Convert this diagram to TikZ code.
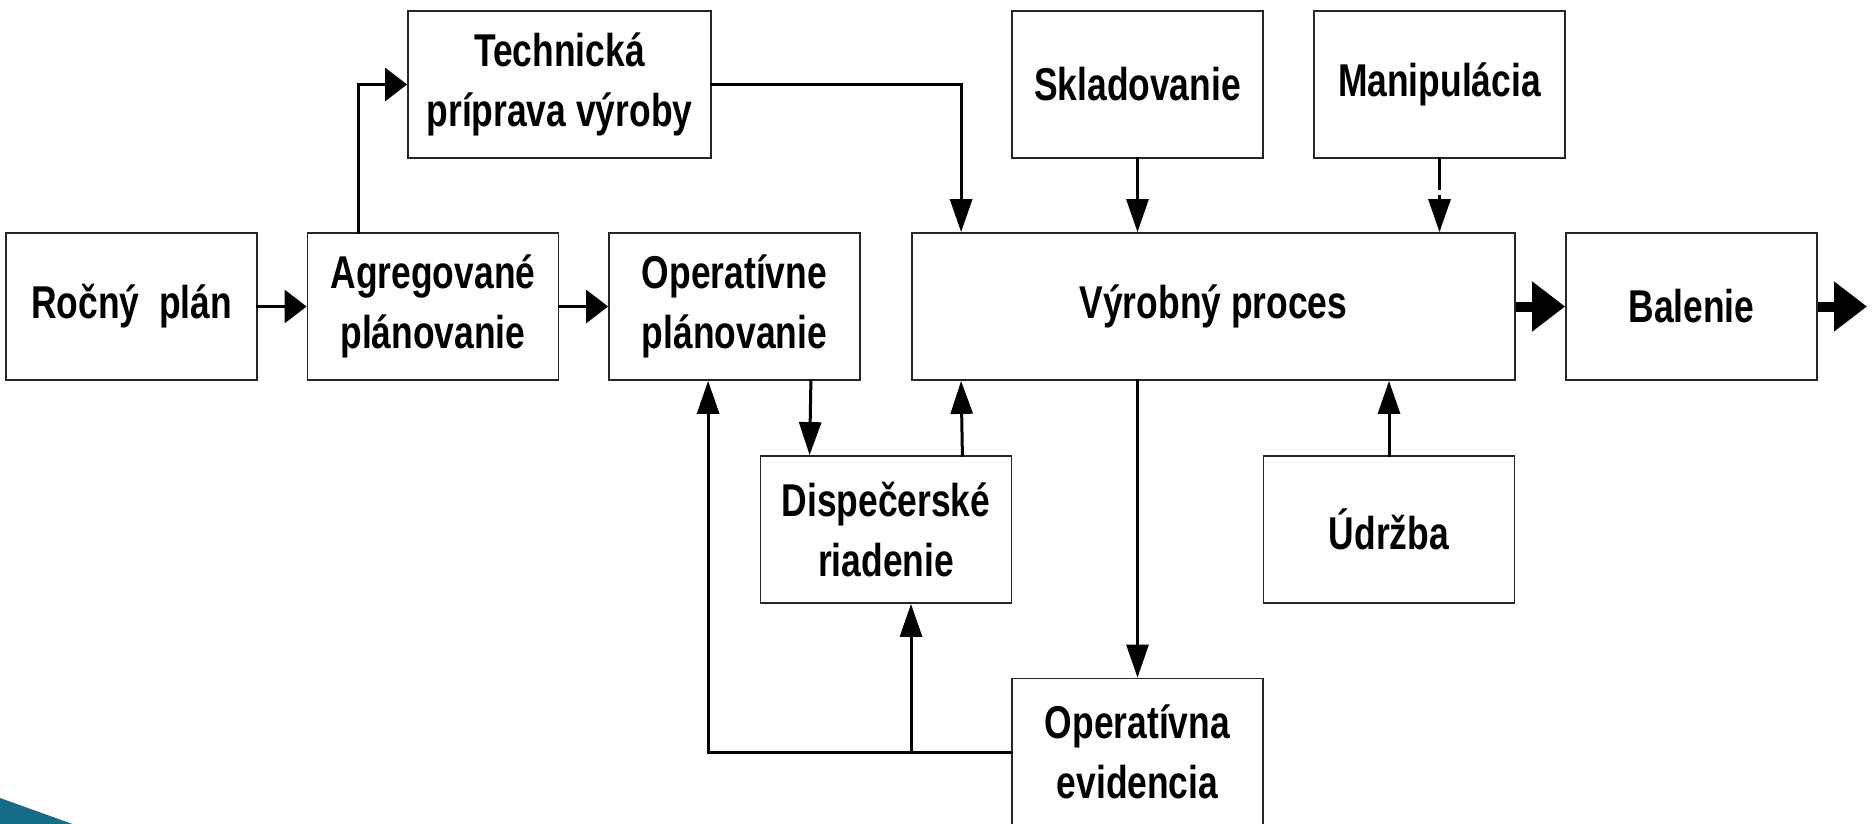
\documentclass[tikz,border=0pt]{standalone}
\usepackage{fontspec}
\setmainfont{Liberation Sans}[FakeStretch=0.77]
\usetikzlibrary{arrows.meta,calc}

\definecolor{wedgeblue}{RGB}{18,108,138}

\tikzset{
  % one unit = one pixel of the finished drawing
  blk/.style={draw=black!85, line width=0.9pt, fill=white,
    minimum width=125.5pt, minimum height=73.5pt, inner sep=0pt,
    align=center, font=\fontsize{23}{30}\selectfont\bfseries},
  conn/.style={line width=1.5pt, line cap=rect},
  harr/.style={conn, -{Triangle[length=11pt,width=16.5pt]}},
  varr/.style={conn, -{Triangle[length=16.5pt,width=11pt]}},
  bigarr/.style={line width=5pt, -{Triangle[length=16.5pt,width=24pt]}}
}

\begin{document}
\begin{tikzpicture}[x=0.5pt,y=-0.5pt]
\useasboundingbox (0,0) rectangle (1876,824);

% corner decoration
\fill[wedgeblue] (0,798) -- (78,826) -- (0,826) -- cycle;

% blocks
\node[blk] (rocny)  at (131.5,306.5) {Ročný~~plán};
\node[blk] (agreg)  at (433,306.5)   {Agregované\\plánovanie};
\node[blk] (operpl) at (734.5,306.5) {Operatívne\\plánovanie};
\node[blk, minimum width=151.5pt] (techn) at (559.5,84.5) {Technická\\príprava výroby};
\node[blk, minimum width=301.5pt] (vyr) at (1213.5,306.5) {Výrobný proces};
\node[blk] (sklad)  at (1137.5,84.5) {Skladovanie};
\node[blk] (manip)  at (1439.5,84.5) {Manipulácia};
\node[blk] (balen)  at (1691.5,306.5) {Balenie};
\node[blk] (disp)   at (886,529.5)   {Dispečerské\\riadenie};
\node[blk] (udr)    at (1389,529.5)  {Údržba};
\node[blk] (evid)   at (1137.5,752)  {Operatívna\\evidencia};

\coordinate (out) at (1867,306.5);
\coordinate (dispin) at ($(disp.south)+(25,0)$);
\coordinate (join) at (evid.west -| dispin);

% planning chain
\draw[harr] (rocny.east) -- (agreg.west);
\draw[harr] (agreg.east) -- (operpl.west);
\draw[harr] ($(agreg.north)+(-75,0)$) |- (techn.west);
\draw[varr] (techn.east) -| ($(vyr.north west)+(50,0)$);

% inputs to production
\draw[varr] (sklad.south) -- (vyr.north -| sklad.south);
\draw[conn] (manip.south) -- ++(0,30);
\draw[varr] ($(manip.south)+(0,38)$) -- (vyr.north -| manip.south);

% output flow
\draw[bigarr] (vyr.east) -- (balen.west);
\draw[bigarr] (balen.east) -- (out);

% dispatching loop
\draw[varr] ($(operpl.south east)+(-50,0)$) -- ($(disp.north west)+(50,0)$);
\draw[varr] ($(disp.north east)+(-50,0)$) -- ($(vyr.south west)+(50,0)$);
\draw[varr] (vyr.south -| evid.north) -- (evid.north);
\draw[varr] (udr.north) -- (vyr.south -| udr.north);

% feedback from records
\draw[varr] (evid.west) -| ($(operpl.south west)+(100,0)$);
\draw[varr] (join) -- (dispin);
\end{tikzpicture}
\end{document}
